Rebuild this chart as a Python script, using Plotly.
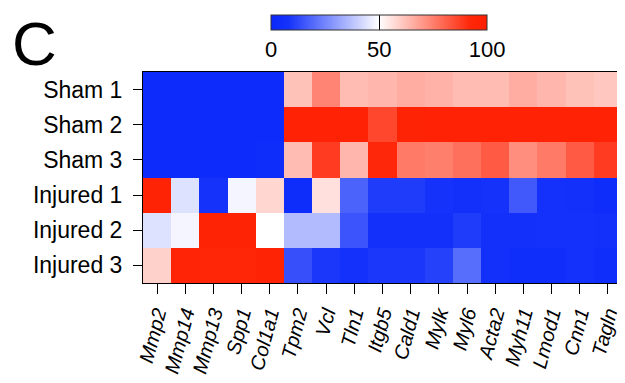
import plotly.graph_objects as go

genes = ["Mmp2", "Mmp14", "Mmp13", "Spp1", "Col1a1", "Tpm2", "Vcl", "Tln1", "Itgb5",
         "Cald1", "Mylk", "Myl6", "Acta2", "Myh11", "Lmod1", "Cnn1", "Tagln"]
samples = ["Sham 1", "Sham 2", "Sham 3", "Injured 1", "Injured 2", "Injured 3"]

sham1 = [2, 2, 2, 2, 2, 62, 74, 63, 64, 66, 65, 63, 63, 66, 64, 62, 61]
sham2 = [2, 2, 2, 2, 2, 97, 97, 97, 86, 96, 97, 97, 97, 97, 97, 97, 97]
sham3 = [2, 2, 2, 2, 3, 63, 88, 64, 93, 76, 75, 78, 82, 72, 76, 82, 88]
inj1 = [96, 44, 8, 48, 58, 4, 56, 18, 10, 10, 8, 6, 8, 16, 7, 6, 4]
inj2 = [44, 48, 96, 96, 50, 36, 36, 15, 6, 6, 6, 10, 6, 6, 7, 7, 6]
inj3 = [59, 95, 94, 94, 96, 14, 9, 7, 9, 9, 11, 20, 6, 5, 5, 7, 5]

z = [sham1, sham2, sham3, inj1, inj2, inj3]

colorscale = [[0.0, "rgb(10,40,250)"], [0.08, "rgb(20,50,250)"], [0.5, "rgb(255,255,255)"],
              [0.92, "rgb(255,40,10)"], [1.0, "rgb(255,30,0)"]]

fig = go.Figure(go.Heatmap(
    z=z, x=genes, y=samples, zmin=0, zmax=100, colorscale=colorscale,
    zsmooth=False,
    colorbar=dict(
        orientation="h", lenmode="pixels", len=216, thickness=15,
        x=0.493, xanchor="center", xpad=0, ypad=0, y=1.27, yanchor="top",
        tickvals=[0, 50, 100], ticktext=["0", "50", "100"],
        ticks="inside", ticklen=15, tickcolor="black", tickwidth=1,
        outlinewidth=1, outlinecolor="#333",
        tickfont=dict(family="Liberation Sans, Arial", size=22, color="black"),
    ),
))

fig.update_layout(
    width=617, height=375,
    margin=dict(l=135, r=3, t=64, b=100, autoexpand=False),
    paper_bgcolor="white", plot_bgcolor="white",
    font=dict(family="Liberation Sans, Arial", color="black"),
    xaxis=dict(
        tickangle=-75, ticks="outside", ticklen=10, tickcolor="black", automargin=False,
        showline=True, linecolor="black", linewidth=1, mirror=True,
        tickfont=dict(size=20, style="italic"), showgrid=False,
    ),
    yaxis=dict(
        autorange="reversed", ticks="outside", ticklen=9, tickcolor="black", automargin=False,
        showline=True, linecolor="black", linewidth=1, mirror=True, ticklabelstandoff=6,
        tickfont=dict(size=23), showgrid=False,
    ),
    annotations=[dict(text="C", xref="paper", yref="paper", x=-0.2255, y=1.303,
                      xanchor="center", yanchor="top", showarrow=False, borderpad=0,
                      font=dict(size=62, family="Liberation Sans, Arial", color="black"))],
)

fig.write_html("out.html")
